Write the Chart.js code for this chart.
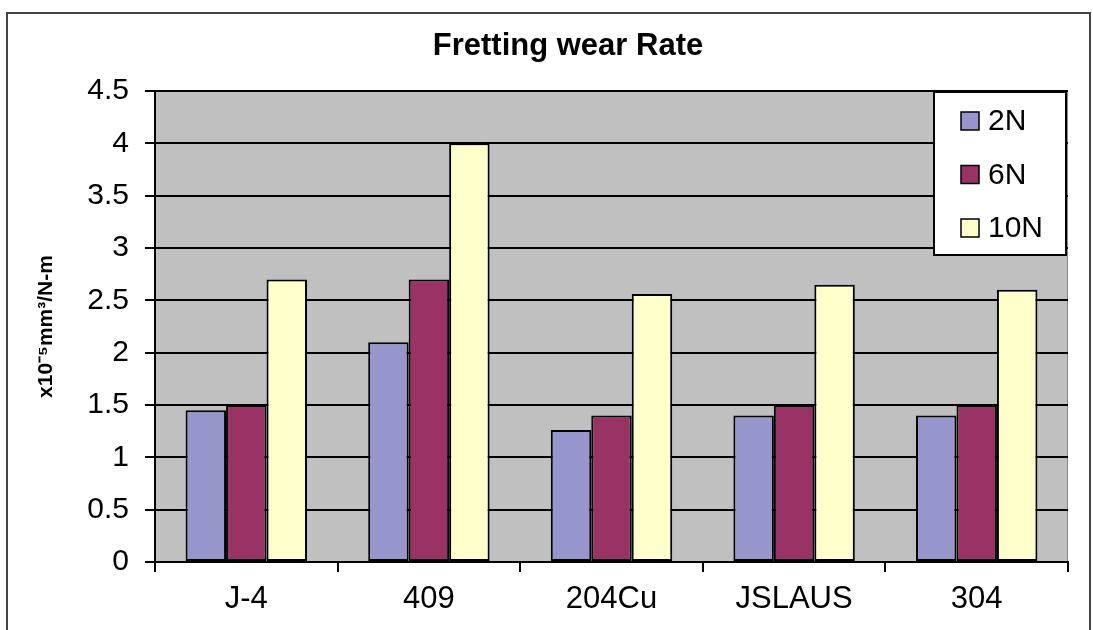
<!DOCTYPE html>
<html>
<head>
<meta charset="utf-8">
<script src="https://cdn.jsdelivr.net/npm/chart.js@4"></script>
<style>
  html, body { margin: 0; padding: 0; background: #fff; }
  #wrap { width: 1093px; height: 630px; }
</style>
</head>
<body>
<div id="wrap"><canvas id="c" width="1093" height="630"></canvas></div>
<script>
const categories = ['J-4', '409', '204Cu', 'JSLAUS', '304']
const loads = ['2N', '6N', '10N']
const rate2N = [1.45, 2.1, 1.26, 1.4, 1.4]
const rate6N = [1.5, 2.7, 1.4, 1.5, 1.5]
const rate10N = [2.7, 4.0, 2.56, 2.65, 2.6]
const colors = ['#9696cc', '#993366', '#ffffcc']

const FONT = '"Liberation Sans", Arial, sans-serif'

// white page, outer frame, grey plot area, title
const frame = {
  id: 'frame',
  beforeDraw (chart) {
    const ctx = chart.ctx
    const a = chart.chartArea
    ctx.save()
    ctx.fillStyle = '#fff'
    ctx.fillRect(0, 0, chart.width, chart.height)
    ctx.strokeStyle = '#444'
    ctx.lineWidth = 2
    ctx.strokeRect(7, 13, 1083, 640)
    ctx.fillStyle = '#c0c0c0'
    ctx.fillRect(a.left, a.top, a.right - a.left, a.bottom - a.top)
    ctx.strokeStyle = '#7f8a90'
    ctx.lineWidth = 1
    ctx.beginPath()
    ctx.moveTo(a.left, a.top + 0.5)
    ctx.lineTo(a.right, a.top + 0.5)
    ctx.moveTo(a.right - 0.5, a.top)
    ctx.lineTo(a.right - 0.5, a.bottom)
    ctx.stroke()
    ctx.fillStyle = '#000'
    ctx.font = 'bold 31px ' + FONT
    ctx.textAlign = 'center'
    ctx.textBaseline = 'middle'
    ctx.fillText('Fretting wear Rate', 568, 46)
    ctx.restore()
  }
}

// boxed legend in the top right corner of the plot
const boxLegend = {
  id: 'boxLegend',
  afterDraw (chart) {
    const ctx = chart.ctx
    const x = 934, y = 92, w = 132, h = 163
    ctx.save()
    ctx.fillStyle = '#fff'
    ctx.fillRect(x, y, w, h)
    ctx.strokeStyle = '#000'
    ctx.lineWidth = 2
    ctx.strokeRect(x, y, w, h)
    ctx.font = '30px ' + FONT
    ctx.textBaseline = 'middle'
    chart.data.datasets.forEach((ds, i) => {
      const cy = 121 + i * 53.5
      ctx.fillStyle = ds.backgroundColor
      ctx.fillRect(961, cy - 9, 18, 18)
      ctx.lineWidth = 1.5
      ctx.strokeRect(961, cy - 9, 18, 18)
      ctx.fillStyle = '#000'
      ctx.fillText(ds.label, 988, cy + 1)
    })
    ctx.restore()
  }
}

const series = [rate2N, rate6N, rate10N]

new Chart(document.getElementById('c').getContext('2d'), {
  type: 'bar',
  data: {
    labels: categories,
    datasets: loads.map((l, i) => ({
      label: l,
      data: series[i],
      backgroundColor: colors[i],
      borderColor: '#000',
      borderWidth: 2,
      borderSkipped: false,
      categoryPercentage: 0.665,
      barPercentage: 1
    }))
  },
  options: {
    responsive: false,
    animation: false,
    layout: {
      padding: { left: 0, right: 25, top: 91, bottom: 0 }
    },
    plugins: {
      legend: { display: false },
      title: { display: false },
      tooltip: { enabled: false }
    },
    scales: {
      x: {
        afterFit: (s) => { s.height = 68 },
        grid: {
          offset: true,
          drawOnChartArea: false,
          color: '#000',
          lineWidth: 2,
          tickLength: 10
        },
        border: { color: '#000', width: 2 },
        ticks: {
          color: '#000',
          font: { family: FONT, size: 31 },
          padding: 9,
          maxRotation: 0
        }
      },
      y: {
        min: 0,
        max: 4.5,
        afterFit: (s) => { s.width = 155 },
        grid: {
          color: '#000',
          lineWidth: 2,
          tickLength: 10
        },
        border: { color: '#000', width: 2 },
        ticks: {
          stepSize: 0.5,
          color: '#000',
          font: { family: FONT, size: 30 },
          padding: 16,
          callback: (v) => String(v)
        },
        title: {
          display: true,
          text: 'x10\u207B\u2075mm\u00B3/N-m',
          color: '#000',
          font: { family: FONT, size: 21, weight: 'bold' },
          padding: { top: 34 }
        }
      }
    }
  },
  plugins: [frame, boxLegend]
})
</script>
</body>
</html>
